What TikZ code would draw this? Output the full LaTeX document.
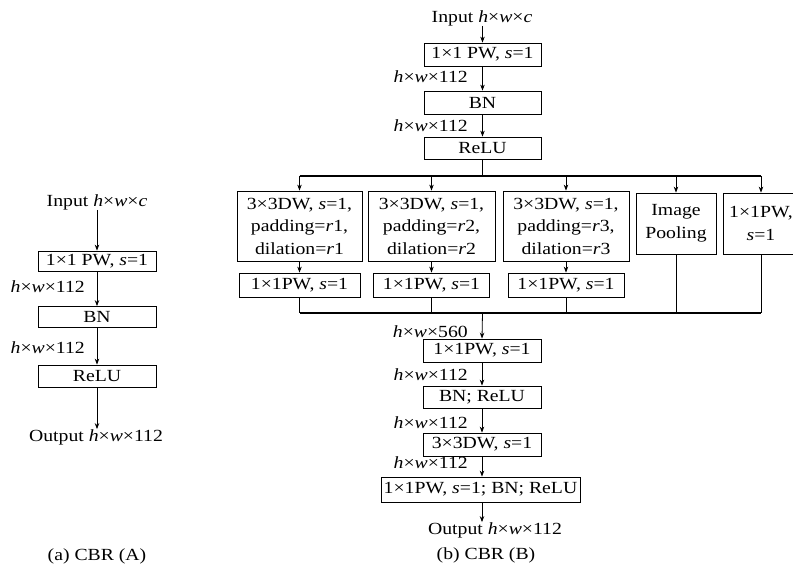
\documentclass[tikz,border=0pt]{standalone}
\usepackage{fontspec}
\setmainfont{Liberation Serif}[FakeStretch=1.16]
\usetikzlibrary{arrows.meta}

\newcommand{\hw}[1]{\textit{h}×\textit{w}×#1}

\begin{document}
\begin{tikzpicture}[x=1pt, y=-1pt,
    font=\fontsize{17}{22.5}\selectfont,
    blk/.style={draw, line width=0.8pt, inner sep=0pt, align=center},
    lbl/.style={anchor=east, inner sep=0pt},
    txt/.style={inner sep=0pt},
    arr/.style={line width=0.8pt, -{Stealth[length=6pt, width=4.5pt]}},
    ln/.style={line width=0.8pt},
    bus/.style={line width=1.4pt}]
    \useasboundingbox (0,0) rectangle (793,567);

    % (a) CBR (A)
    \node[txt] (inA) at (97,202) {Input \hw{\textit{c}}};
    \node[blk, minimum width=118, minimum height=20] (a1) at (97,261) {1×1 PW, \textit{s}=1};
    \node[blk, minimum width=118, minimum height=21] (a2) at (97,317) {BN};
    \node[blk, minimum width=118, minimum height=22] (a3) at (97,376) {ReLU};
    \node[txt] (outA) at (96,437) {Output \hw{112}};
    \node[lbl] (la1) at (85,287) {\hw{112}};
    \node[lbl] (la2) at (85,348) {\hw{112}};
    \node[txt] (capA) at (97,556) {(a) CBR (A)};

    \draw[arr] (inA.south -| a1.north) -- (a1.north);
    \draw[arr] (a1) -- (a2);
    \draw[arr] (a2) -- (a3);
    \draw[arr] (a3.south) -- (a3.south |- outA.north);

    % (b) CBR (B)
    \node[txt] (inB) at (482,18) {Input \hw{\textit{c}}};
    \node[blk, minimum width=117, minimum height=23] (b1) at (482.5,54.5) {1×1 PW, \textit{s}=1};
    \node[blk, minimum width=117, minimum height=23] (b2) at (482.5,102.5) {BN};
    \node[blk, minimum width=117, minimum height=22] (b3) at (482.5,148) {ReLU};
    \node[lbl] (lb1) at (468,77) {\hw{112}};
    \node[lbl] (lb2) at (468,126) {\hw{112}};

    \coordinate (tb) at (482.5,176);
    \coordinate (bb) at (482.5,313);

    \node[blk, minimum width=125, minimum height=70] (d1) at (299.5,226) {3×3DW, \textit{s}=1,\\ padding=\textit{r}1,\\ dilation=\textit{r}1};
    \node[blk, minimum width=127, minimum height=70] (d2) at (431.5,226) {3×3DW, \textit{s}=1,\\ padding=\textit{r}2,\\ dilation=\textit{r}2};
    \node[blk, minimum width=126, minimum height=70] (d3) at (566,226) {3×3DW, \textit{s}=1,\\ padding=\textit{r}3,\\ dilation=\textit{r}3};
    \node[blk, minimum width=80, minimum height=61] (pool) at (676,223.5) {Image\\ Pooling};
    \node[blk, minimum width=76, minimum height=61] (pw) at (761,223.5) {1×1PW,\\ \textit{s}=1};

    \node[blk, minimum width=121, minimum height=24] (p1) at (299.5,285) {1×1PW, \textit{s}=1};
    \node[blk, minimum width=116, minimum height=24] (p2) at (431.5,285) {1×1PW, \textit{s}=1};
    \node[blk, minimum width=116, minimum height=24] (p3) at (566,285) {1×1PW, \textit{s}=1};

    \node[blk, minimum width=118, minimum height=23] (c1) at (482,350.5) {1×1PW, \textit{s}=1};
    \node[blk, minimum width=118, minimum height=22] (c2) at (482,397) {BN; ReLU};
    \node[blk, minimum width=118, minimum height=23] (c3) at (482,444.5) {3×3DW, \textit{s}=1};
    \node[blk, minimum width=199, minimum height=25] (c4) at (480.5,489.5) {1×1PW, \textit{s}=1; BN; ReLU};
    \node[lbl] (lc1) at (468,332) {\hw{560}};
    \node[lbl] (lc2) at (468,375) {\hw{112}};
    \node[lbl] (lc3) at (468,423) {\hw{112}};
    \node[lbl] (lc4) at (468,463) {\hw{112}};
    \node[txt] (outB) at (495,530) {Output \hw{112}};
    \node[txt] (capB) at (486,555) {(b) CBR (B)};

    \draw[arr] (inB.south -| b1.north) -- (b1.north);
    \draw[arr] (b1) -- (b2);
    \draw[arr] (b2) -- (b3);

    % split into five branches
    \draw[bus] (b3.south) -- (tb);
    \draw[bus] (d1.north |- tb) -- (pw.north |- tb);
    \foreach \n in {d1,d2,d3,pool,pw}
        \draw[arr] (\n.north |- tb) -- (\n.north);
    \foreach \n/\m in {d1/p1,d2/p2,d3/p3}
        \draw[arr] (\n) -- (\m);

    % concatenate
    \foreach \n in {p1,p2,p3,pool,pw}
        \draw[ln] (\n.south) -- (\n.south |- bb);
    \draw[bus] (p1.south |- bb) -- (pw.south |- bb);
    \draw[bus, arr] (bb) -- (c1.north);

    \draw[arr] (c1) -- (c2);
    \draw[arr] (c2) -- (c3);
    \draw[arr] (c3) -- (c3.south |- c4.north);
    \draw[arr] (c3.south |- c4.south) -- (c3.south |- outB.north);
\end{tikzpicture}
\end{document}
